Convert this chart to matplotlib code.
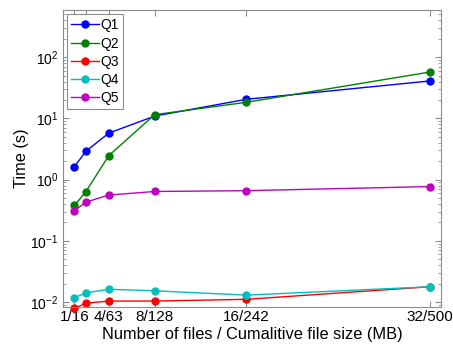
import numpy as np
import matplotlib.pyplot as plt
from matplotlib.ticker import LogLocator, NullFormatter

plt.rcParams['font.family'] = ['Liberation Sans', 'DejaVu Sans']
plt.rcParams['mathtext.fontset'] = 'custom'
plt.rcParams['mathtext.rm'] = 'Liberation Sans'

n_files = [1, 2, 4, 8, 16, 32]
tick_labels = ['1/16', '', '4/63', '8/128', '16/242', '32/500']

q1 = [1.63, 2.91, 5.75, 10.9, 20.5, 40.8]
q2 = [0.38, 0.636, 2.47, 11.5, 18.3, 57.0]
q3 = [0.0079, 0.0096, 0.0104, 0.0104, 0.0111, 0.0178]
q4 = [0.0118, 0.0141, 0.0162, 0.0153, 0.0130, 0.0178]
q5 = [0.31, 0.43, 0.56, 0.64, 0.66, 0.77]

series = [('Q1', q1, (0, 0, 1)),
          ('Q2', q2, (0, 0.5, 0)),
          ('Q3', q3, (1, 0, 0)),
          ('Q4', q4, (0, 0.75, 0.75)),
          ('Q5', q5, (0.75, 0, 0.75))]

fig = plt.figure(figsize=(4.53, 3.45), dpi=100)
ax = fig.add_axes([63 / 453, 1 - 307 / 345, 378 / 453, 297 / 345])

for name, vals, col in series:
    ax.plot(n_files, vals, '-o', color=col, lw=1, ms=5, label=name, clip_on=False)

ax.set_yscale('log')
ax.set_xlim(0, 33)
ax.set_ylim(10 ** -2.08, 10 ** 2.77)
ax.set_xticks(n_files)
ax.set_xticklabels(tick_labels)
ax.yaxis.set_major_locator(LogLocator(base=10, numticks=10))
ax.yaxis.set_minor_locator(LogLocator(base=10, subs=np.arange(2, 10), numticks=10))
ax.yaxis.set_minor_formatter(NullFormatter())

gray = '#8c8c8c'
for s in ax.spines.values():
    s.set_color(gray)
ax.tick_params(which='both', direction='in', top=True, right=True, color=gray,
               labelsize=10, labelcolor='black')
ax.tick_params(axis='x', labelsize=11, pad=2.5)
ax.tick_params(which='major', length=4)
ax.tick_params(which='minor', length=2)

ax.set_xlabel('Number of files / Cumalitive file size (MB)', fontsize=11.8, labelpad=1.5)
ax.set_ylabel('Time (s)', fontsize=11.8, labelpad=1)

leg = ax.legend(loc='upper left', fontsize=10, fancybox=False, framealpha=1,
                edgecolor=gray, handlelength=2.0, handletextpad=0.1,
                borderaxespad=0.3, labelspacing=0.3, borderpad=0.3)
leg.get_frame().set_linewidth(0.8)

fig.savefig('out.png', dpi=100)
